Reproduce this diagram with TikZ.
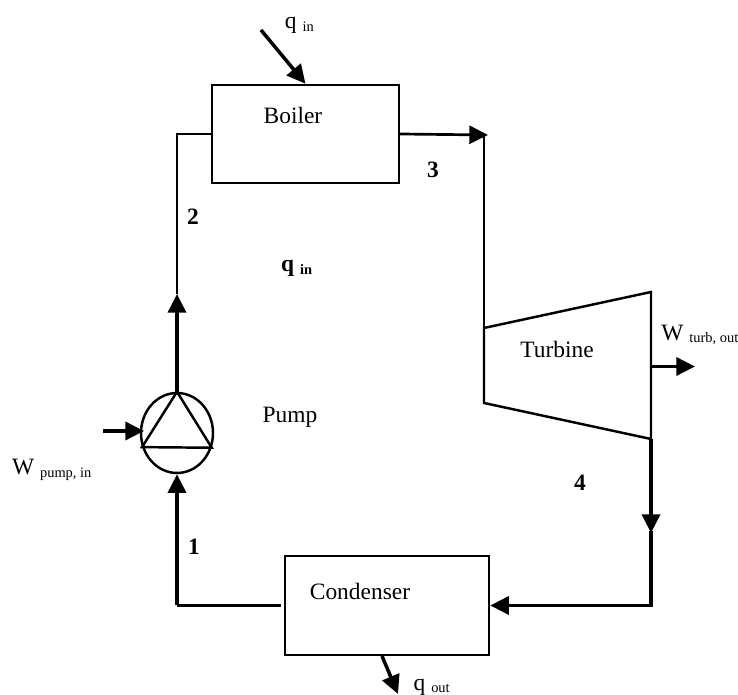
\documentclass[tikz,border=0pt]{standalone}
\usepackage{fontspec}
\setmainfont{Liberation Serif}
\usepackage{tikz}
\usetikzlibrary{arrows.meta,shapes.geometric}
\newcommand{\lowtxt}[1]{\raisebox{-0.12em}{\fontsize{12.3}{13}\selectfont #1}}

\begin{document}
\begin{tikzpicture}
		\tikzstyle{every node}=[font=\fontsize{20}{22}\selectfont]
		\tikzstyle{unit}=[draw, line width=2.1pt, inner sep=0pt]
		\tikzstyle{pipe}=[line width=1.9pt]
		\tikzstyle{flow}=[line width=3pt, -{Stealth[length=5.6mm,width=5.4mm,inset=0pt]}]
		\tikzstyle{num}=[font=\fontsize{20}{22}\selectfont\bfseries]
		\useasboundingbox (0,0) rectangle (22.14,20.85);
		
		\node [unit, minimum width=5.61cm, minimum height=2.94cm] (boiler) at (9.165,16.83) {};
		\node [unit, minimum width=6.12cm, minimum height=2.97cm] (condenser) at (11.61,2.685) {};
		\node [draw, ellipse, line width=2.1pt, inner sep=0pt, minimum width=2.16cm, minimum height=2.4cm] (pump) at (5.31,7.86) {};
		
		\coordinate (turbinA) at (14.52,11.01);
		\coordinate (turbinB) at (19.53,12.09);
		\coordinate (turbinC) at (19.53,7.68);
		\coordinate (turbinD) at (14.52,8.76);
		\draw [line width=2.1pt, line join=miter] (turbinA) -- (turbinB) -- (turbinC) -- (turbinD) -- cycle;
		
		\draw [line width=2.1pt] (pump.north) -- (pump.202.5) -- (pump.337.5) -- cycle;
		
		\coordinate (leftup) at (5.31,16.83);
		\coordinate (leftarrow) at (5.31,12.03);
		\coordinate (leftdown) at (5.31,2.685);
		\coordinate (toptip) at (14.64,16.8);
		\coordinate (topcorner) at (14.52,16.8);
		\coordinate (rightarrow) at (19.53,4.86);
		\coordinate (rightdown) at (19.53,2.685);
		
		\draw [pipe] (leftarrow) -- (leftup) -- (boiler.west);
		\draw [flow] (pump.north) -- (leftarrow);
		\draw [flow] (leftdown) -- (pump.south);
		\draw [pipe, shorten >=0.09cm] (leftdown) -- (condenser.west);
		\draw [flow, line width=2.3pt] (boiler.east) -- (toptip);
		\draw [pipe] (topcorner) -- (turbinA);
		\draw [flow] (turbinC) -- (rightarrow);
		\draw [line width=3pt, line cap=rect] (rightarrow) -- (rightdown);
		\draw [flow] (rightdown) -- (condenser.east);
		
		\coordinate (qinstart) at (7.83,19.95);
		\coordinate (qoutstart) at (11.46,1.17);
		\coordinate (qoutend) at (11.94,0.03);
		\coordinate (wpumpstart) at (3.09,7.92);
		\coordinate (wpumpend) at (4.32,7.92);
		\coordinate (wturbstart) at (19.53,9.855);
		\coordinate (wturbend) at (20.85,9.855);
		
		\draw [flow] (qinstart) -- (boiler.north);
		\draw [flow] (qoutstart) -- (qoutend);
		\draw [flow] (wpumpstart) -- (wpumpend);
		\draw [flow] (wturbstart) -- (wturbend);
		
		\node (boilerlabel) at (8.79,17.4) {Boiler};
		\node (condenserlabel) at (10.8,3.1) {Condenser};
		\node (turbinelabel) at (16.71,10.38) {Turbine};
		\node (pumplabel) at (8.7,8.34) {Pump};
		
		\node (qinlabel) at (8.98,20.08) {q \lowtxt{in}};
		\node (qoutlabel) at (12.95,0.24) {q \lowtxt{out}};
		\node (qmidlabel) at (8.9,12.79) {\textbf{q \lowtxt{in}}};
		\node (wpumplabel) [anchor=west] at (0.24,6.75) {W \lowtxt{pump, in}};
		\node (wturblabel) [anchor=west] at (19.72,10.8) {W \lowtxt{turb, out}};
		
		\node [num] (onelabel) at (5.82,4.44) {1};
		\node [num] (twolabel) at (5.79,14.34) {2};
		\node [num] (threelabel) at (12.99,15.75) {3};
		\node [num] (fourlabel) at (17.4,6.36) {4};
		
\end{tikzpicture}
\end{document}
